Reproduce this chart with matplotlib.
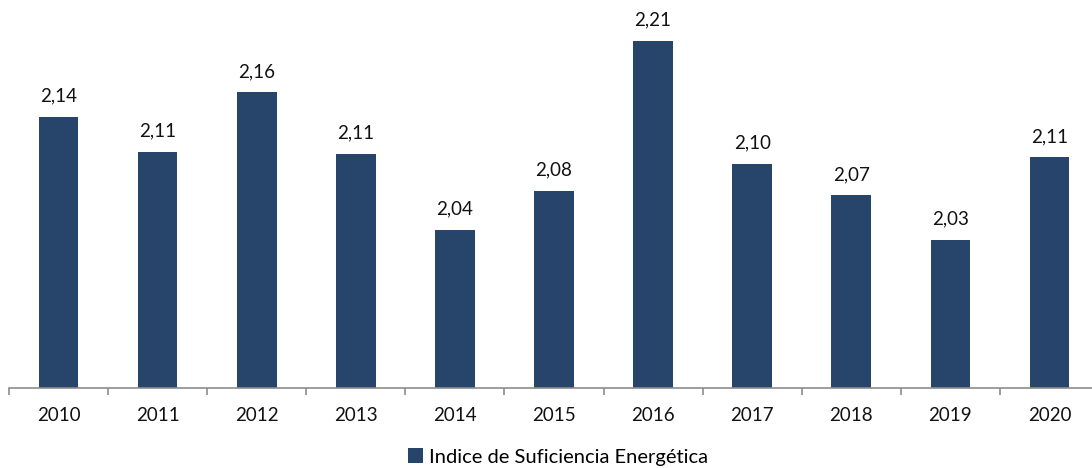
import numpy as np
import matplotlib.pyplot as plt

plt.rcParams['font.family'] = ['Lato', 'DejaVu Sans']

# Datos
anios = ['2010', '2011', '2012', '2013', '2014', '2015', '2016', '2017', '2018', '2019', '2020']
indice = [2.142, 2.111, 2.164, 2.109, 2.041, 2.076, 2.210, 2.100, 2.072, 2.032, 2.106]

color_barra = '#27446a'
W, H = 1092, 468

fig = plt.figure(figsize=(W / 100, H / 100), dpi=100)
ax = fig.add_axes([9 / W, 80 / H, 1090 / W, 378 / H])

x = np.arange(len(anios))
barras = ax.bar(x, indice, width=0.4, color=color_barra, label='Indice de Suficiencia Energética', zorder=2)

ymin = 1.9
px_por_unidad = (388 - 41) / (2.21 - ymin)
ax.set_ylim(ymin, ymin + 378 / px_por_unidad)
ax.set_xlim(-0.5, len(anios) - 0.5)

for xi, v in zip(x, indice):
    ax.annotate(f'{v:.2f}'.replace('.', ','), (xi, v), xytext=(0, 9), textcoords='offset points',
                ha='center', va='bottom', fontsize=13.5, color='#111111')

# Ejes
for s in ['top', 'right', 'left']:
    ax.spines[s].set_visible(False)
ax.spines['bottom'].set_color('#8c8c8c')
ax.spines['bottom'].set_linewidth(1.2)
ax.set_yticks([])

ax.set_xticks(np.arange(-0.5, len(anios), 1.0))
ax.set_xticklabels([])
ax.tick_params(axis='x', which='major', length=5, color='#8c8c8c', width=1.2)
ax.set_xticks(x, minor=True)
ax.set_xticklabels(anios, minor=True, fontsize=13.5, color='#111111')
ax.tick_params(axis='x', which='minor', length=0, pad=14)

fig.legend(handles=[barras], loc='center', bbox_to_anchor=(558 / W, 1 - 457 / H),
           frameon=False, fontsize=14.5, handlelength=0.7, handleheight=0.7, handletextpad=0.3)

fig.savefig('out.png', dpi=100)
